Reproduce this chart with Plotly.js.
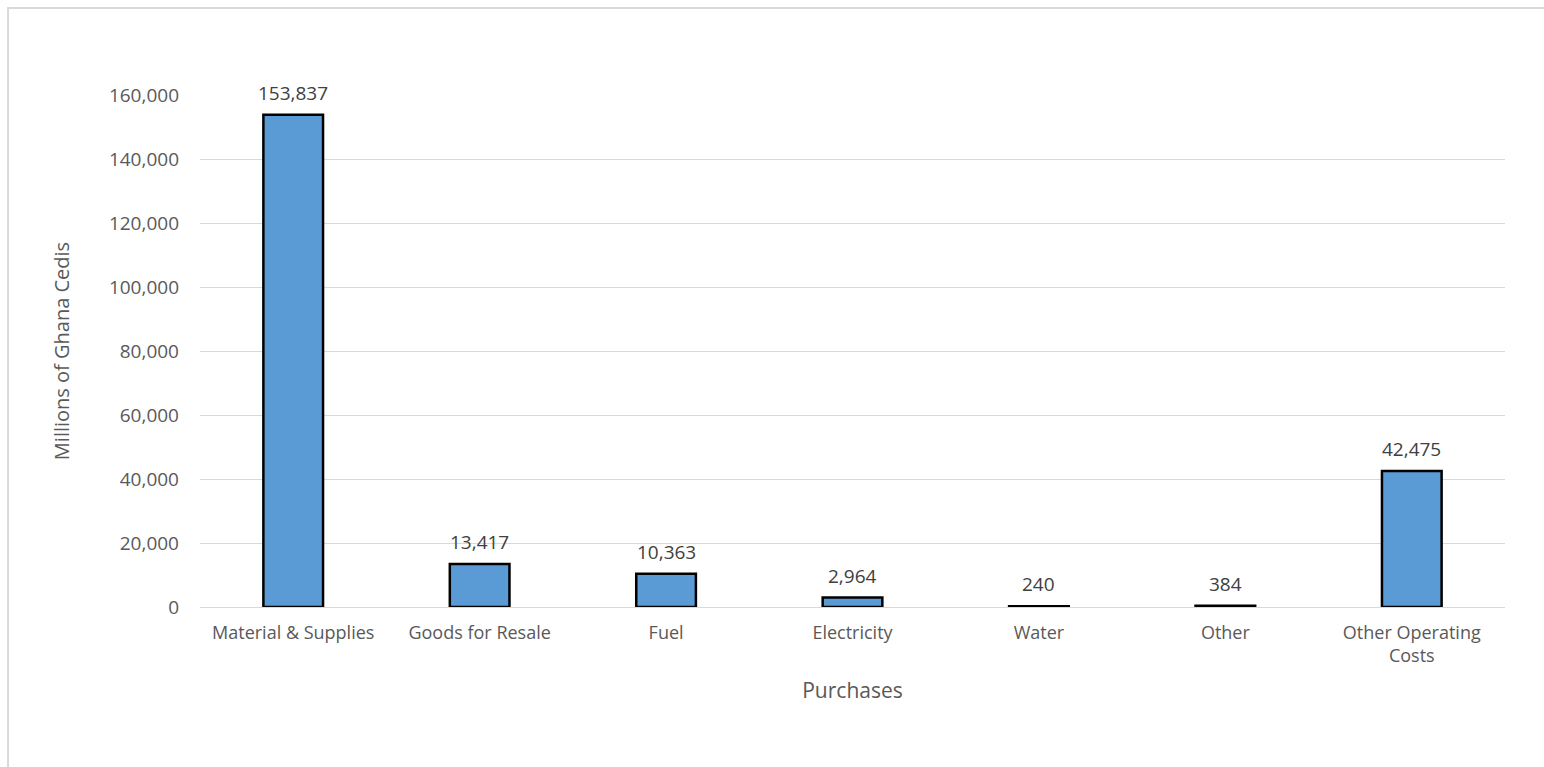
<!DOCTYPE html>
<html>
<head>
<meta charset="utf-8">
<script src="https://cdn.plot.ly/plotly-3.0.1.min.js"></script>
<style>html,body{margin:0;padding:0;background:#fff;}#chart{width:1544px;height:767px;}</style>
</head>
<body>
<div id="chart"></div>
<script>
const categories = ["Material & Supplies", "Goods for Resale", "Fuel", "Electricity", "Water", "Other", "Other Operating<br>Costs"];
const values = [153837, 13417, 10363, 2964, 240, 384, 42475];
const yTickValues = [0, 20000, 40000, 60000, 80000, 100000, 120000, 140000, 160000];
const yTickLabels = ["0", "20,000", "40,000", "60,000", "80,000", "100,000", "120,000", "140,000", "160,000"];

const FONT = "Open Sans, sans-serif";

const trace = {
  type: "bar",
  x: categories,
  y: values,
  width: 0.32,
  marker: {color: "#5B9BD5", line: {color: "#000000", width: 2.5}},
  hoverinfo: "x+y"
};

const labelAnnotations = categories.map((c, i) => ({
  x: c, y: values[i], xref: "x", yref: "y",
  text: values[i].toLocaleString("en-US"),
  showarrow: false, yanchor: "bottom", yshift: 7,
  font: {family: FONT, size: 19, color: "#404040"}
}));

const layout = {
  width: 1544, height: 767,
  margin: {l: 200, r: 39, t: 95, b: 160},
  paper_bgcolor: "#ffffff", plot_bgcolor: "#ffffff",
  showlegend: false,
  font: {family: FONT, color: "#595959"},
  xaxis: {
    type: "category",
    showgrid: false, zeroline: false,
    showline: false, ticks: "",
    tickfont: {family: FONT, size: 18, color: "#595959"},
    ticklabelstandoff: 13,
    title: {text: "Purchases", font: {family: FONT, size: 21, color: "#595959"}, standoff: 16},
    automargin: false
  },
  yaxis: {
    range: [0, 160000],
    tickvals: yTickValues, ticktext: yTickLabels,
    showgrid: true, gridcolor: "#D9D9D9", gridwidth: 1,
    zeroline: true, zerolinecolor: "#D9D9D9", zerolinewidth: 1,
    showline: false, ticks: "",
    tickfont: {family: FONT, size: 19, color: "#595959"},
    ticklabelstandoff: 20,
    title: {text: "Millions of Ghana Cedis", font: {family: FONT, size: 20, color: "#595959"}, standoff: 33},
    automargin: false
  },
  annotations: labelAnnotations,
  shapes: [{
    type: "rect", xref: "paper", yref: "paper",
    x0: -0.1471, x1: 1.04, y0: -0.32, y1: 1.1699,
    line: {color: "#D9D9D9", width: 2}, fillcolor: "rgba(0,0,0,0)", layer: "below"
  }]
};

Plotly.newPlot("chart", [trace], layout, {displayModeBar: false, staticPlot: true});
</script>
</body>
</html>
